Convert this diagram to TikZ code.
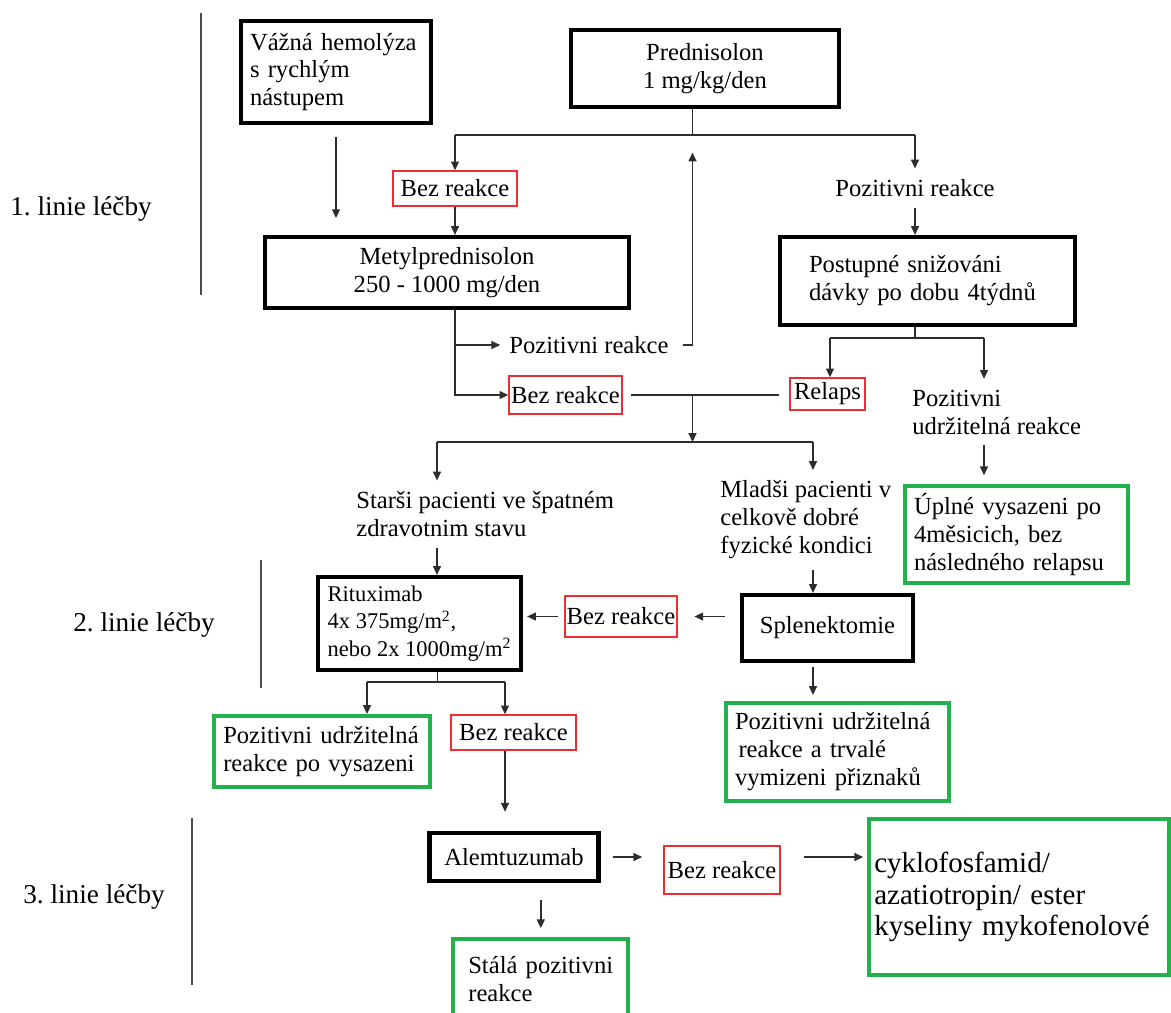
\documentclass[tikz,border=0pt]{standalone}
\usepackage{fontspec}
\setmainfont{Liberation Serif}
\usetikzlibrary{arrows.meta}
\definecolor{boxgreen}{RGB}{34,177,76}
\definecolor{boxred}{RGB}{232,48,52}
\definecolor{linegray}{RGB}{45,45,45}
\tikzset{
  blackbox/.style={draw=black, line width=2.4pt, inner ysep=0pt},
  redbox/.style={draw=boxred, line width=0.8pt, inner sep=0pt},
  greenbox/.style={draw=boxgreen, line width=2.3pt, inner ysep=0pt, align=left},
  plaintext/.style={inner xsep=0pt, inner ysep=6pt, align=left},
  linie/.style={font=\fontsize{15.5}{18}\selectfont, inner sep=0pt, anchor=west},
  conn/.style={draw=linegray, line width=0.85pt},
  arr/.style={conn, -{Triangle[length=5pt,width=4.5pt]}},
  divider/.style={draw=black!70, line width=1.1pt}
}
\begin{document}
\begin{tikzpicture}[x=0.02cm, y=-0.02cm, font=\fontsize{14}{15.9}\selectfont]
  \useasboundingbox (0,0) rectangle (1171,1012);
  \node[linie] (linie1) at (10,209) {1.\ linie léčby};
  \node[linie] (linie2) at (73,625) {2.\ linie léčby};
  \node[linie] (linie3) at (23,897) {3.\ linie léčby};
  \draw[divider] (201,13) -- (201,295);
  \draw[divider] (260.6,560) -- (260.6,688);
  \draw[divider] (192,818) -- (192,985);

  \node[blackbox, align=left, text width=3.44cm, inner xsep=0.18cm, minimum height=2.04cm] (hemolyza) at (336,72) {Vážná hemolýza\\s rychlým\\nástupem};
  \node[blackbox, align=center, minimum width=5.37cm, minimum height=1.54cm] (prednisolon) at (705,68.5) {Prednisolon\\1 mg/kg/den};
  \node[redbox, minimum width=2.48cm, minimum height=0.7cm] (bezreakce1) at (455,188.5) {Bez reakce};
  \node[plaintext] (pozitivni1) at (915,188) {Pozitivni reakce};
  \node[blackbox, align=center, minimum width=7.28cm, minimum height=1.42cm] (metyl) at (447,272.5) {Metylprednisolon\\250 - 1000 mg/den};
  \node[blackbox, align=left, text width=4.74cm, inner xsep=0.58cm, minimum height=1.76cm] (postupne) at (927.5,281) {Postupné snižováni\\dávky po dobu 4týdnů};
  \node[plaintext, anchor=west] (pozitivni2) at (509,345) {Pozitivni reakce};
  \node[redbox, minimum width=2.26cm, minimum height=0.76cm] (bezreakce2) at (565.5,395) {Bez reakce};
  \node[redbox, minimum width=1.5cm, minimum height=0.64cm] (relaps) at (827.5,394) {Relaps};
  \node[plaintext, anchor=west] (pozitivni3) at (912,412) {Pozitivni\\udržitelná reakce};
  \node[plaintext, anchor=west] (starsi) at (356,514) {Starši pacienti ve špatném\\zdravotnim stavu};
  \node[plaintext, anchor=west] (mladsi) at (720,520) {Mladši pacienti v\\celkově dobré\\fyzické kondici};
  \node[greenbox, text width=4.1cm, inner xsep=0.18cm, minimum height=1.94cm] (uplne) at (1016.5,534.5) {Úplné vysazeni po\\4měsicich, bez\\následného relapsu};
  \node[blackbox, align=left, font=\fontsize{12.8}{15.6}\selectfont, minimum width=4.06cm, minimum height=1.86cm] (rituximab) at (419.5,623.5) {Rituximab\\4x 375mg/m\textsuperscript{2},\\nebo 2x 1000mg/m\textsuperscript{2}};
  \node[redbox, minimum width=2.24cm, minimum height=0.82cm] (bezreakce3) at (621,616.5) {Bez reakce};
  \node[blackbox, minimum width=3.42cm, minimum height=1.32cm] (splenektomie) at (827.5,628) {Splenektomie};
  \node[greenbox, text width=4.1cm, inner xsep=0.18cm, minimum height=1.96cm] (trvale) at (837.5,752) {Pozitivni udržitelná\\\hspace{2pt}reakce a trvalé\\vymizeni přiznaků};
  \node[greenbox, text width=3.95cm, inner xsep=0.18cm, minimum height=1.42cm] (povysazeni) at (322,751.5) {Pozitivni udržitelná\\reakce po vysazeni};
  \node[redbox, minimum width=2.5cm, minimum height=0.7cm] (bezreakce4) at (513.5,732.5) {Bez reakce};
  \node[blackbox, line width=2.7pt, minimum width=3.39cm, minimum height=0.96cm] (alemtuzumab) at (514,857) {Alemtuzumab};
  \node[redbox, minimum width=2.32cm, minimum height=0.96cm] (bezreakce5) at (722,870) {Bez reakce};
  \node[greenbox, font=\fontsize{16.5}{17.9}\selectfont, text width=5.79cm, inner xsep=0.1cm, minimum height=3.12cm] (cyklofosfamid) at (1019,897) {cyklofosfamid/\\azatiotropin/ ester\\kyseliny mykofenolové};
  \node[greenbox, text width=2.9cm, inner xsep=0.3cm, minimum height=1.6cm] (stala) at (540.8,979) {Stálá pozitivni\\reakce};

  \coordinate (split1) at (692.5,135);
  \coordinate (split1L) at (455,135);
  \coordinate (split1R) at (915,135);
  \coordinate (join) at (bezreakce2.east -| split1);
  \coordinate (split2) at (692.5,442);
  \coordinate (split2L) at (437,442);
  \coordinate (split2R) at (813,442);
  \coordinate (split3) at (915,338);
  \coordinate (split3L) at (830,338);
  \coordinate (split3R) at (984,338);
  \coordinate (split4) at (437.5,682);
  \coordinate (split4L) at (367,682);
  \coordinate (split4R) at (505,682);

  \begin{scope}[conn]
    \draw (prednisolon.south -| split1) -- (split1);
    \draw (split1L) -- (split1R);
    \draw[shorten <=4.5pt, shorten >=6pt] (bezreakce2.east) -- (relaps.west |- bezreakce2.east);
    \draw (split2L) -- (split2R);
    \draw (postupne.south -| split3) -- (split3);
    \draw (split3L) -- (split3R);
    \draw (rituximab.south -| split4) -- (split4);
    \draw (split4L) -- (split4R);
  \end{scope}

  \begin{scope}[arr]
    \draw[shorten <=6.8pt, shorten >=9.6pt] (hemolyza) -- (metyl.north -| hemolyza);
    \draw (split1L) -- (bezreakce1.north);
    \draw (split1R) -- (pozitivni1.north);
    \draw (bezreakce1) -- (metyl.north -| bezreakce1);
    \draw (pozitivni1.south) -- (postupne.north -| pozitivni1.south);
    \draw[shorten >=5pt] (metyl.south -| bezreakce1) |- (pozitivni2.west);
    \draw (metyl.south -| bezreakce1) |- (bezreakce2.west);
    \draw[shorten <=8pt, shorten >=10pt] (pozitivni2.east) -| (split1);
    \draw (join) -- (split2);
    \draw (split2L) -- (starsi.north -| split2L);
    \draw (split2R) -- (mladsi.north -| split2R);
    \draw (split3L) -- (relaps.north -| split3L);
    \draw (split3R) -- (pozitivni3.north -| split3R);
    \draw[shorten >=5pt] (pozitivni3.south -| split3R) -- (uplne.north -| split3R);
    \draw (starsi.south -| split2L) -- (rituximab.north -| split2L);
    \draw (mladsi.south -| split2R) -- (splenektomie.north -| split2R);
    \draw[shorten <=8.5pt, shorten >=9.5pt] (splenektomie.west |- bezreakce3) -- (bezreakce3.east);
    \draw[shorten <=3.4pt, shorten >=2.3pt] (bezreakce3.west) -- (rituximab.east |- bezreakce3.west);
    \draw[shorten <=2.3pt, shorten >=3.4pt] (splenektomie.south -| split2R) -- (trvale.north -| split2R);
    \draw (split4L) -- (povysazeni.north -| split4L);
    \draw (split4R) -- (bezreakce4.north -| split4R);
    \draw[shorten >=10.8pt] (bezreakce4.south -| split4R) -- (alemtuzumab.north -| split4R);
    \draw[shorten <=6.8pt, shorten >=12pt] (alemtuzumab.east) -- (bezreakce5.west |- alemtuzumab.east);
    \draw[shorten <=13pt, shorten >=2.3pt] (bezreakce5.east |- alemtuzumab.east) -- (cyklofosfamid.west |- alemtuzumab.east);
    \draw[shorten <=9.6pt, shorten >=5pt] (alemtuzumab.south -| stala) -- (stala.north);
  \end{scope}
\end{tikzpicture}
\end{document}
